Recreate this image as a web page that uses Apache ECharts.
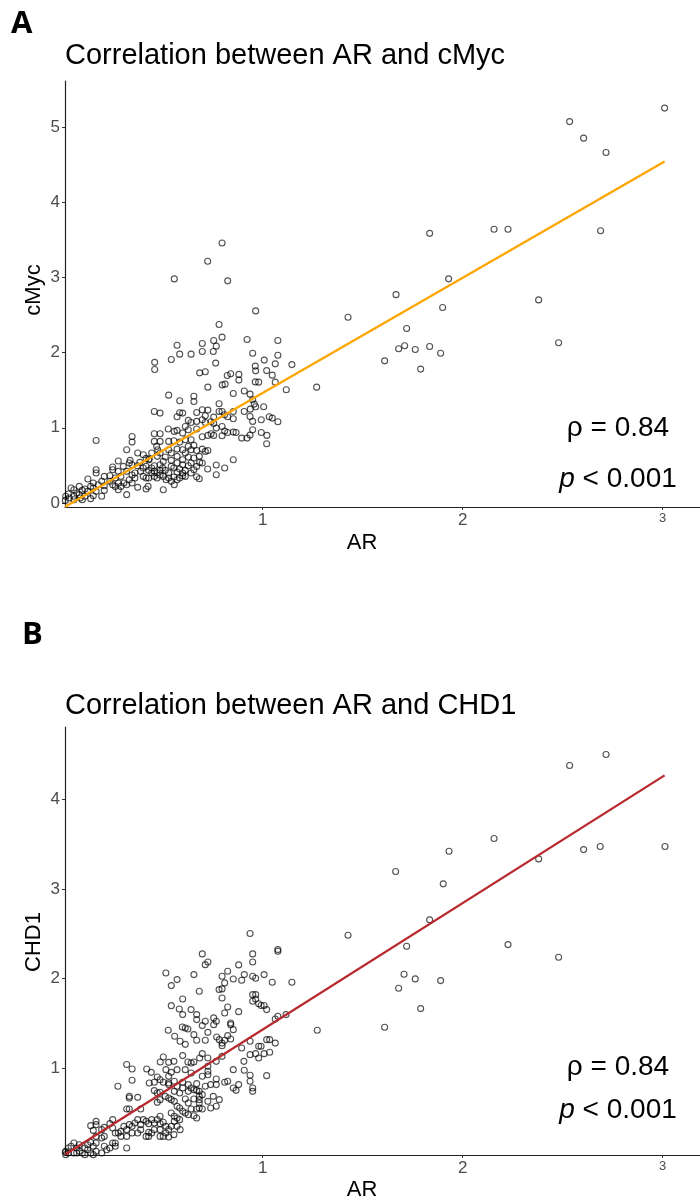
<!DOCTYPE html>
<html><head><meta charset="utf-8">
<script src="https://cdn.jsdelivr.net/npm/echarts@6/dist/echarts.min.js"></script>
<style>html,body{margin:0;padding:0;background:#fff}#c{width:700px;height:1200px}</style>
</head><body><div id="c"></div>
<script>
const xTicks = [1, 2, 3];
const yTicksA = [0, 1, 2, 3, 4, 5];
const yTicksB = [1, 2, 3, 4];
const titleA = 'Correlation between AR and cMyc';
const titleB = 'Correlation between AR and CHD1';
const xName = 'AR';
const yNameA = 'cMyc';
const yNameB = 'CHD1';
const rhoText = 'ρ = 0.84';
const pText = '{i|p} < 0.001';

// AR vs cMyc
const pointsA = [
[3.01,5.25],[2.535,5.07],[2.605,4.85],[2.717,4.66],[2.69,3.62],[2.157,3.64],[2.227,3.64],[1.835,3.585],[1.93,2.98],[1.667,2.77],[2.38,2.70],[1.90,2.60],[1.427,2.47],[1.72,2.32],[1.71,2.09],[1.68,2.05],[1.763,2.04],[1.835,2.08],[1.89,1.99],[1.61,1.89],[1.79,1.78],[2.48,2.13],[1.27,1.54],
[0.797,3.457],[0.725,3.214],[0.558,2.979],[0.825,2.953],[0.965,2.554],[0.782,2.373],[0.797,2.205],[0.922,2.174],[1.076,2.16],[0.572,2.098],[0.698,2.12],[0.755,2.16],[0.768,2.085],[0.543,1.908],[0.585,1.979],[0.642,1.979],[0.698,2.014],[0.753,2.014],[0.95,1.99],[1.076,1.965],[0.46,1.87],[0.46,1.775],[1.008,1.90],[0.963,1.82],[0.965,1.757],[1.063,1.85],[1.02,1.76],[1.048,1.70],[1.146,1.84],[0.765,1.86],[0.685,1.73],[0.713,1.744],[0.726,1.54],[0.823,1.695],[0.84,1.718],[0.881,1.71],[0.881,1.634],[0.798,1.57],[0.812,1.58],[0.963,1.61],[0.98,1.607],[1.063,1.607],[1.118,1.505],
[0.53,1.434],[0.585,1.359],[0.656,1.42],[0.656,1.35],[0.782,1.32],[0.853,1.456],[0.908,1.49],[0.937,1.447],[0.95,1.372],[0.958,1.315],[1.005,1.279],[0.965,1.279],[0.938,1.248],[0.908,1.217],[0.853,1.217],[0.797,1.217],[0.81,1.173],[0.825,1.147],[0.853,1.12],[0.937,1.151],[0.95,1.085],[0.993,1.107],[1.033,1.147],[1.048,1.129],[1.076,1.08],
[0.458,1.217],[0.487,1.195],[0.572,1.147],[0.585,1.2],[0.6,1.195],[0.628,1.098],[0.67,1.204],[0.698,1.24],[0.713,1.16],[0.726,1.235],[0.713,1.071],[0.67,1.085],[0.742,1.08],[0.755,1.058],[0.782,1.217],[0.768,0.996],[0.797,1.018],[0.81,0.956],[0.825,0.938],[0.853,0.943],[0.797,0.894],[0.867,0.938],[0.895,0.863],[0.922,0.863],[0.95,0.974],[0.937,0.903],[0.993,0.938],[1.021,0.899],[1.02,0.788],
[0.528,0.983],[0.458,0.921],[0.487,0.921],[0.558,0.952],[0.572,0.965],[0.6,0.93],[0.628,0.974],[0.67,0.983],[0.698,0.881],[0.726,0.899],[0.742,0.921],[0.755,0.899],[0.642,1.071],[0.613,1.018],[0.698,1.107],[0.755,1.142],
[0.167,0.832],[0.347,0.885],[0.347,0.81],[0.32,0.708],[0.458,0.819],[0.487,0.819],[0.53,0.819],[0.556,0.828],[0.585,0.81],[0.613,0.841],[0.642,0.841],[0.656,0.766],[0.67,0.699],[0.698,0.717],[0.713,0.686],[0.726,0.699],[0.683,0.62],[0.656,0.598],[0.685,0.54],[0.698,0.531],[0.725,0.452],[0.768,0.505],[0.768,0.376],[0.81,0.465],[0.853,0.575],[0.67,0.35],[0.683,0.323],
[0.47,0.753],[0.475,0.708],[0.487,0.664],[0.473,0.62],[0.433,0.584],[0.417,0.593],[0.386,0.54],[0.373,0.496],[0.333,0.531],[0.337,0.567],[0.278,0.558],[0.25,0.478],[0.25,0.443],[0.167,0.443],[0.167,0.398],[0.208,0.354],[0.236,0.363],[0.291,0.354],[0.278,0.266],[0.291,0.221],[0.32,0.111],[0.32,0.243],[0.347,0.372],[0.361,0.332],[0.403,0.354],[0.417,0.332],[0.43,0.332],[0.445,0.398],[0.458,0.354],[0.472,0.332],[0.487,0.372],[0.5,0.465],[0.513,0.434],[0.53,0.398],[0.543,0.487],[0.556,0.465],[0.572,0.412],[0.585,0.452],[0.6,0.363],[0.613,0.434],[0.628,0.496],[0.642,0.531],[0.558,0.243],[0.503,0.177],[0.427,0.221],[0.417,0.186],[0.375,0.208],[0.208,0.168],[0.153,0.266],[0.14,0.221],[0.126,0.319],[0.111,0.186],[0.098,0.168],[0.083,0.221],[0.07,0.133],[0.056,0.177],[0.042,0.199],[0.028,0.12],[0.015,0.089],[0.033,0.066],[0.056,0.089],[0.083,0.111],[0.111,0.089],[0.14,0.058],[0.153,0.097],[0.167,0.155],[0.013,0.035],[0.056,0.044],[0.098,0.044],[0.195,0.089],[0.208,0.23],[0.236,0.288],[0.25,0.243],[0.263,0.221],[0.278,0.177],[0.306,0.266],[0.333,0.31],[0.347,0.266],[0.361,0.398],[0.39,0.421],[0.403,0.465],[0.417,0.487],[0.43,0.434],[0.445,0.465],[0.458,0.496],[0.487,0.509],[0.458,0.421],[0.472,0.398],[0.487,0.434],[0.503,0.354],[0.517,0.31],[0.53,0.332],[0.543,0.288],[0.556,0.345],[0.572,0.31],[0.585,0.332],[0.6,0.398],[0.613,0.354],[0.642,0.398],[0.656,0.443],[0.67,0.487],[0.628,0.611],[0.6,0.575],[0.572,0.62],[0.543,0.664],[0.53,0.708],[0.513,0.611],[0.503,0.553],[0.543,0.567],[0.572,0.531],[0.6,0.509],[0.613,0.664],[0.642,0.708],[0.628,0.753],[0.6,0.708],[0.572,0.717],[0.375,0.664],[0.403,0.642],[0.43,0.575],[0.445,0.664],[0.347,0.509],[0.303,0.487],[0.278,0.421],[0.263,0.332],[0.32,0.421],[0.195,0.288],[0.178,0.243],[0.125,0.155],[0.087,0.066],[0.153,0.199]
];

// AR vs CHD1
const pointsB = [
[2.717,4.503],[2.535,4.38],[2.157,3.564],[1.932,3.423],[2.688,3.475],[2.605,3.441],[3.012,3.475],[2.38,3.337],[1.665,3.196],[1.903,3.058],[1.835,2.656],[1.427,2.484],[1.72,2.361],[2.227,2.38],[2.48,2.238],[1.707,2.048],[1.763,1.997],[1.68,1.892],[1.89,1.978],[1.79,1.665],[1.61,1.456],[1.273,1.423],[1.117,1.598],
[0.937,2.503],[1.076,2.324],[1.076,2.305],[0.95,2.276],[0.698,2.276],[0.713,2.156],[0.726,2.186],[0.95,2.186],[0.88,2.153],[0.516,2.063],[0.572,1.989],[0.543,1.922],[0.656,2.045],[0.683,1.858],[0.825,2.082],[0.797,2.026],[0.853,1.996],[0.908,2.045],[0.95,2.026],[0.965,2.004],[1.007,2.045],[1.048,1.959],[1.146,1.959],[0.895,1.981],[0.81,1.952],[0.797,1.885],[0.782,1.877],[0.797,1.784],[0.6,1.773],[0.543,1.698],[0.583,1.661],[0.6,1.598],[0.642,1.654],[0.67,1.598],[0.67,1.542],[0.713,1.523],[0.755,1.561],[0.768,1.523],[0.81,1.616],[0.825,1.683],[0.755,1.486],[0.698,1.475],[0.84,1.505],[0.84,1.486],[0.88,1.631],[0.95,1.821],[0.965,1.821],[0.95,1.747],[0.965,1.773],[0.98,1.72],[0.992,1.70],[1.007,1.70],[1.02,1.654],[1.076,1.579],[1.063,1.549],
[0.528,1.423],[0.56,1.356],[0.598,1.46],[0.613,1.449],[0.626,1.438],[0.656,1.374],[0.67,1.311],[0.587,1.30],[0.613,1.266],[0.713,1.311],[0.726,1.40],[0.77,1.348],[0.783,1.318],[0.797,1.28],[0.797,1.25],[0.81,1.311],[0.825,1.363],[0.84,1.326],[0.853,1.43],[0.895,1.225],[0.937,1.30],[0.98,1.244],[0.992,1.244],[1.02,1.318],[1.035,1.318],[1.063,1.28],[0.937,1.151],[0.965,1.162],[0.98,1.114],[1.007,1.162],[1.035,1.177],[1.02,0.916],[0.906,1.076],[0.908,0.976],[0.937,0.92],[0.937,0.853],[0.95,0.778],[0.95,0.741],[0.853,0.983],[0.825,0.853],[0.853,0.778],[0.867,0.752],[0.88,0.816],
[0.797,1.132],[0.768,1.076],[0.726,1.114],[0.698,1.162],[0.685,1.114],[0.656,1.069],[0.626,1.069],[0.6,1.14],[0.556,1.076],[0.53,1.065],[0.503,1.125],[0.488,1.069],[0.572,0.983],[0.543,0.953],[0.516,0.983],[0.613,0.983],[0.642,1.058],[0.642,0.946],[0.726,1.02],[0.726,0.965],[0.726,0.927],[0.698,0.909],[0.768,0.879],[0.768,0.816],[0.81,0.842],[0.67,0.827],[0.656,0.76],[0.67,0.752],[0.628,0.741],[0.6,0.778],[0.585,0.722],[0.558,0.741],[0.53,0.816],[0.53,0.834],
[0.487,0.871],[0.473,0.901],[0.458,0.842],[0.433,0.834],[0.42,0.99],[0.443,0.953],[0.32,1.04],[0.347,0.99],[0.347,0.864],[0.276,0.797],[0.333,0.685],[0.333,0.667],[0.375,0.674],[0.32,0.544],[0.333,0.544],[0.39,0.544],[0.458,0.749],[0.487,0.73],
[0.503,0.842],[0.53,0.909],[0.558,0.853],[0.572,0.797],[0.6,0.842],[0.628,0.816],[0.642,0.778],[0.613,0.655],[0.628,0.611],[0.656,0.655],[0.683,0.648],[0.698,0.704],[0.713,0.797],[0.74,0.816],[0.753,0.685],[0.726,0.629],[0.74,0.555],[0.768,0.574],[0.783,0.648],[0.683,0.741],[0.683,0.685],[0.683,0.611],
[0.473,0.723],[0.487,0.648],[0.473,0.618],[0.513,0.685],[0.53,0.667],[0.543,0.648],[0.558,0.629],[0.572,0.574],[0.585,0.555],[0.6,0.518],[0.613,0.499],[0.642,0.544],[0.67,0.544],[0.683,0.555],[0.698,0.544],[0.656,0.469],[0.67,0.443],[0.628,0.48],[0.543,0.499],[0.558,0.462],[0.572,0.443],[0.585,0.425],[0.558,0.406],[0.543,0.35],[0.572,0.35],[0.587,0.313],[0.487,0.462],[0.473,0.425],[0.458,0.387],[0.445,0.425],[0.43,0.38],[0.417,0.406],[0.403,0.425],[0.39,0.369],[0.487,0.38],[0.503,0.395],[0.516,0.35],[0.53,0.313],[0.487,0.313],[0.458,0.313],[0.445,0.276],[0.43,0.238],[0.417,0.238],[0.43,0.283],[0.375,0.425],[0.361,0.387],[0.347,0.35],[0.333,0.369],[0.32,0.313],[0.306,0.35],[0.291,0.294],[0.278,0.276],[0.39,0.313],[0.375,0.276],[0.347,0.276],[0.32,0.238],[0.291,0.238],[0.263,0.276],[0.25,0.331],[0.25,0.425],[0.236,0.38],[0.208,0.339],[0.195,0.313],[0.167,0.406],[0.167,0.369],[0.14,0.358],[0.153,0.305],[0.167,0.238],[0.208,0.238],[0.195,0.22],[0.263,0.164],[0.263,0.127],[0.32,0.108],[0.556,0.257],[0.53,0.231],[0.516,0.276],[0.503,0.238],[0.487,0.238],
[0.015,0.071],[0.028,0.108],[0.042,0.127],[0.056,0.164],[0.07,0.108],[0.083,0.145],[0.083,0.071],[0.098,0.052],[0.111,0.108],[0.125,0.089],[0.14,0.052],[0.153,0.127],[0.153,0.034],[0.167,0.164],[0.167,0.071],[0.056,0.052],[0.028,0.052],[0.015,0.034],[0.013,0.06],[0.07,0.052],[0.125,0.145],[0.14,0.171],[0.111,0.034],[0.208,0.127],[0.22,0.089],[0.236,0.108],[0.25,0.164],[0.195,0.052]
];

// fitted regression line end points
const fitA = [[0.012, -0.05], [3.01, 4.54]];
const fitB = [[0.012, 0.035], [3.01, 4.27]];

const FONT = 'Liberation Sans, Arial, sans-serif';
const LABEL_COLOR = '#4d4d4d';

function xAxis(grid) {
  return {
    type: 'value', gridIndex: grid, min: 0.0115, max: 3.187,
    axisLine: { show: true, onZero: false, lineStyle: { color: '#222', width: 1.2 } },
    axisTick: { show: true, length: 3, customValues: xTicks, lineStyle: { color: '#333', width: 1 } },
    axisLabel: {
      customValues: xTicks, color: LABEL_COLOR, fontSize: 17, fontFamily: FONT, margin: 5,
      formatter: v => v === 3 ? '{s|3}' : String(v),
      rich: { s: { fontSize: 13, color: LABEL_COLOR, fontFamily: FONT } }
    },
    splitLine: { show: false }
  };
}
function yAxis(grid, min, max, ticks) {
  return {
    type: 'value', gridIndex: grid, min: min, max: max,
    axisLine: { show: true, onZero: false, lineStyle: { color: '#222', width: 1.2 } },
    axisTick: { show: true, length: 3, customValues: ticks, lineStyle: { color: '#333', width: 1 } },
    axisLabel: { customValues: ticks, color: LABEL_COLOR, fontSize: 17, fontFamily: FONT, margin: 5 },
    splitLine: { show: false }
  };
}
function scatter(idx, data) {
  return {
    type: 'scatter', xAxisIndex: idx, yAxisIndex: idx, data: data,
    symbol: 'circle', symbolSize: 6, clip: false, silent: true,
    itemStyle: { color: 'rgba(0,0,0,0)', borderColor: 'rgba(0,0,0,0.85)', borderWidth: 1.1 },
    z: 2
  };
}
function fitLine(idx, data, color) {
  return {
    type: 'line', xAxisIndex: idx, yAxisIndex: idx, data: data,
    symbol: 'none', silent: true, clip: true,
    lineStyle: { color: color, width: 2.3 }, z: 3
  };
}
function txt(x, y, text, size, extra) {
  return Object.assign({
    type: 'text', x: x, y: y, silent: true,
    style: Object.assign({ text: text, fontSize: size, fontFamily: FONT, fill: '#000', align: 'left', verticalAlign: 'middle' }, (extra && extra.style) || {})
  }, extra && extra.rotation !== undefined ? { rotation: extra.rotation } : {});
}

const chart = echarts.init(document.getElementById('c'), null, { renderer: 'canvas' });
chart.setOption({
  animation: false,
  backgroundColor: '#fff',
  grid: [
    { left: 65, top: 81, right: 0, height: 426, containLabel: false, outerBoundsMode: 'none' },
    { left: 65, top: 727, right: 0, height: 428, containLabel: false, outerBoundsMode: 'none' }
  ],
  xAxis: [xAxis(0), xAxis(1)],
  yAxis: [yAxis(0, -0.053, 5.61, yTicksA), yAxis(1, 0.03, 4.81, yTicksB)],
  series: [
    scatter(0, pointsA), fitLine(0, fitA, '#FFA500'),
    scatter(1, pointsB), fitLine(1, fitB, '#B8282C')
  ],
  graphic: [
    txt(11, 24, 'A', 31, { style: { fontWeight: 'bold', fontFamily: 'Open Sans, Noto Sans, sans-serif' } }),
    txt(22, 635, 'B', 31, { style: { fontWeight: 'bold', fontFamily: 'Open Sans, Noto Sans, sans-serif' } }),
    txt(65, 56, titleA, 29),
    txt(65, 706, titleB, 29),
    txt(362, 543, xName, 22, { style: { align: 'center' } }),
    txt(362, 1190, xName, 22, { style: { align: 'center' } }),
    txt(34, 290, yNameA, 22, { rotation: Math.PI / 2, style: { align: 'center' } }),
    txt(34, 942, yNameB, 22, { rotation: Math.PI / 2, style: { align: 'center' } }),
    txt(618, 428, rhoText, 28, { style: { align: 'center' } }),
    txt(618, 479, pText, 28, { style: { align: 'center', rich: { i: { fontStyle: 'italic', fontSize: 28, fontFamily: FONT } } } }),
    txt(618, 1067, rhoText, 28, { style: { align: 'center' } }),
    txt(618, 1110, pText, 28, { style: { align: 'center', rich: { i: { fontStyle: 'italic', fontSize: 28, fontFamily: FONT } } } })
  ]
});
</script>
</body></html>
